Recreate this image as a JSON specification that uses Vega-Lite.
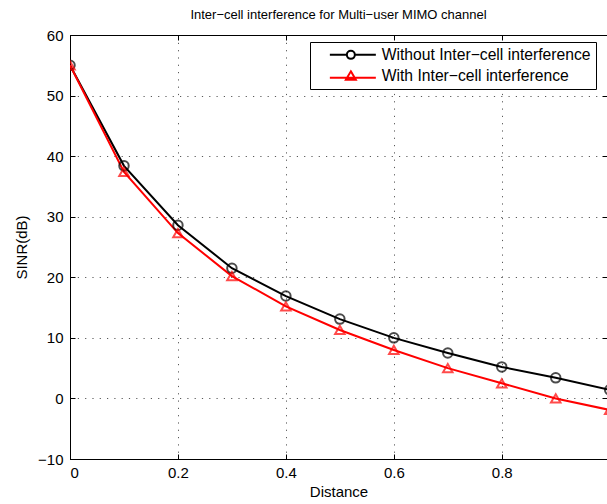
{
  "$schema": "https://vega.github.io/schema/vega-lite/v6.json",
  "width": 537,
  "height": 424,
  "autosize": {"type": "none"},
  "padding": {"left": 70, "top": 35, "right": 0, "bottom": 45},
  "background": "white",
  "title": {"text": "Inter−cell interference for Multi−user MIMO channel", "font": "Liberation Sans", "fontSize": 13, "fontWeight": "normal", "color": "black", "offset": 6},
  "config": {
    "view": {"stroke": "black", "strokeWidth": 1},
    "axis": {
      "labelFont": "Liberation Sans", "labelFontSize": 15, "labelColor": "black",
      "titleFont": "Liberation Sans", "titleFontSize": 15, "titleFontWeight": "normal", "titleColor": "black",
      "domainColor": "black", "domainWidth": 1, "tickColor": "black", "tickSize": -5,
      "gridColor": "black", "gridDash": [1.2, 6.1], "gridOpacity": 0.65, "gridWidth": 1
    }
  },
  "data": {"values": [
    {"distance": 0.0, "sinr": 55.0, "series": "Without Inter−cell interference"},
    {"distance": 0.1, "sinr": 38.4, "series": "Without Inter−cell interference"},
    {"distance": 0.2, "sinr": 28.6, "series": "Without Inter−cell interference"},
    {"distance": 0.3, "sinr": 21.5, "series": "Without Inter−cell interference"},
    {"distance": 0.4, "sinr": 16.9, "series": "Without Inter−cell interference"},
    {"distance": 0.5, "sinr": 13.1, "series": "Without Inter−cell interference"},
    {"distance": 0.6, "sinr": 10.0, "series": "Without Inter−cell interference"},
    {"distance": 0.7, "sinr": 7.5, "series": "Without Inter−cell interference"},
    {"distance": 0.8, "sinr": 5.2, "series": "Without Inter−cell interference"},
    {"distance": 0.9, "sinr": 3.4, "series": "Without Inter−cell interference"},
    {"distance": 1.0, "sinr": 1.4, "series": "Without Inter−cell interference"},
    {"distance": 0.0, "sinr": 55.0, "series": "With Inter−cell interference"},
    {"distance": 0.1, "sinr": 37.4, "series": "With Inter−cell interference"},
    {"distance": 0.2, "sinr": 27.3, "series": "With Inter−cell interference"},
    {"distance": 0.3, "sinr": 20.2, "series": "With Inter−cell interference"},
    {"distance": 0.4, "sinr": 15.2, "series": "With Inter−cell interference"},
    {"distance": 0.5, "sinr": 11.3, "series": "With Inter−cell interference"},
    {"distance": 0.6, "sinr": 8.0, "series": "With Inter−cell interference"},
    {"distance": 0.7, "sinr": 5.0, "series": "With Inter−cell interference"},
    {"distance": 0.8, "sinr": 2.5, "series": "With Inter−cell interference"},
    {"distance": 0.9, "sinr": 0.0, "series": "With Inter−cell interference"},
    {"distance": 1.0, "sinr": -1.9, "series": "With Inter−cell interference"}
  ]},
  "resolve": {"axis": {"x": "independent", "y": "independent"}},
  "layer": [
    {
      "mark": {"type": "line", "strokeWidth": 2, "clip": true},
      "encoding": {
        "x": {"field": "distance", "type": "quantitative", "scale": {"domain": [0, 0.995], "nice": false, "zero": false},
          "axis": {"orient": "bottom", "title": "Distance", "values": [0, 0.2, 0.4, 0.6, 0.8], "format": "~g", "labelPadding": 11, "titlePadding": 4, "grid": true}},
        "y": {"field": "sinr", "type": "quantitative", "scale": {"domain": [-10, 60], "nice": false, "zero": false},
          "axis": {"orient": "left", "title": "SINR(dB)", "values": [-10, 0, 10, 20, 30, 40, 50, 60], "format": "d", "labelPadding": 12, "titlePadding": 8, "grid": true}},
        "color": {"field": "series", "type": "nominal",
          "scale": {"domain": ["Without Inter−cell interference", "With Inter−cell interference"], "range": ["#000000", "#ff0000"]},
          "legend": {
            "title": null, "orient": "none", "legendX": 240, "legendY": 7,
            "fillColor": "white", "strokeColor": "black", "padding": 5,
            "labelFont": "Liberation Sans", "labelFontSize": 15.7, "labelColor": "black", "labelLimit": 400,
            "symbolSize": 100, "symbolStrokeWidth": 2, "labelOffset": 51, "rowPadding": 4,
            "encode": {"symbols": {"update": {
              "shape": {"signal": "datum.value == 'Without Inter−cell interference' ? 'M1.4,0L4.8,0M6.4,0L10.6,0M6.4,0A0.8,0.8,0,1,1,4.8,0A0.8,0.8,0,1,1,6.4,0' : 'M1.4,0.4L10.6,0.4M5.6,-0.9L6.6,0.8L4.6,0.8Z'"},
              "fill": {"value": "transparent"},
              "strokeWidth": {"value": 2}
            }}}
          }}
      }
    },
    {
      "transform": [{"filter": "datum.series == 'Without Inter−cell interference'"}],
      "mark": {"type": "point", "shape": "circle", "filled": false, "size": 90, "strokeWidth": 2, "clip": true},
      "encoding": {
        "x": {"field": "distance", "type": "quantitative",
          "axis": {"orient": "top", "title": null, "labels": false, "domain": false, "grid": false, "values": [0, 0.2, 0.4, 0.6, 0.8]}},
        "y": {"field": "sinr", "type": "quantitative",
          "axis": {"orient": "right", "title": null, "labels": false, "domain": false, "grid": false, "values": [-10, 0, 10, 20, 30, 40, 50, 60]}},
        "color": {"field": "series", "type": "nominal"}
      }
    },
    {
      "transform": [{"filter": "datum.series == 'With Inter−cell interference'"}],
      "mark": {"type": "point", "shape": "triangle-up", "filled": false, "size": 90, "strokeWidth": 2, "clip": true},
      "encoding": {
        "x": {"field": "distance", "type": "quantitative", "axis": null},
        "y": {"field": "sinr", "type": "quantitative", "axis": null},
        "color": {"field": "series", "type": "nominal"}
      }
    }
  ]
}
